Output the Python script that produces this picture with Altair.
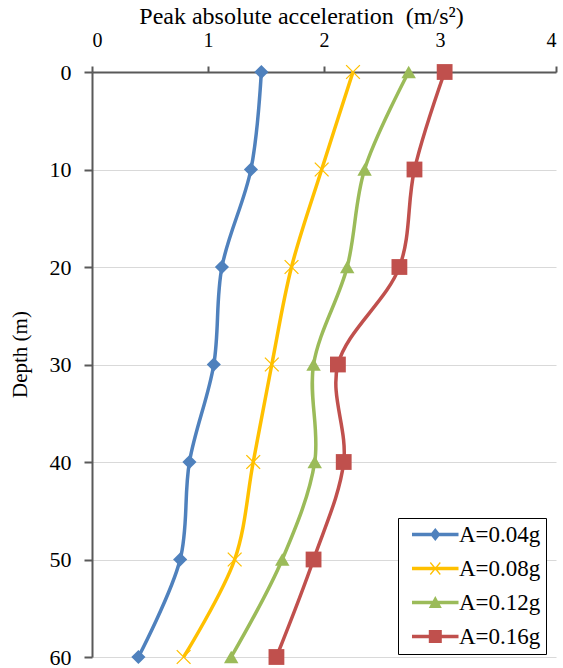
import altair as alt
import pandas as pd

# Depth below ground surface (m)
depth = [0, 10, 20, 30, 40, 50, 60]

# Peak absolute acceleration (m/s²) for each input motion level
series_names = ["A=0.04g", "A=0.08g", "A=0.12g", "A=0.16g"]
acc_004 = [1.46, 1.37, 1.12, 1.05, 0.84, 0.76, 0.40]
acc_008 = [2.25, 1.98, 1.72, 1.55, 1.39, 1.23, 0.79]
acc_012 = [2.73, 2.35, 2.20, 1.91, 1.92, 1.64, 1.20]
acc_016 = [3.04, 2.78, 2.65, 2.12, 2.17, 1.91, 1.59]

x_ticks = [0, 1, 2, 3, 4]
y_ticks = [0, 10, 20, 30, 40, 50, 60]

colors = ["#4F81BD", "#FFC000", "#9BBB59", "#C0504D"]

# legend entries carry a little trailing space so the frame has room on the right
legend_keys = [name + "\u00a0\u00a0" for name in series_names]

rows = []
for name, key, vals in zip(series_names, legend_keys, [acc_004, acc_008, acc_012, acc_016]):
    for d, v in zip(depth, vals):
        rows.append({"series": name, "key": key, "depth": d, "acc": v})
df = pd.DataFrame(rows)

SERIF = "Liberation Serif, Times New Roman, DejaVu Serif, serif"

color_scale = alt.Scale(domain=series_names, range=colors)

x_enc = alt.X(
    "acc:Q",
    scale=alt.Scale(domain=[0, 4], nice=False),
    axis=alt.Axis(
        orient="top",
        values=x_ticks,
        format="d",
        title="Peak absolute acceleration\u00a0 (m/s²)",
        titleFont=SERIF,
        labelFont=SERIF,
        titleFontSize=24,
        titleX=209,
        titleY=-49,
        titleAlign="center",
        titleBaseline="alphabetic",
        labelFontSize=20,
        labelPadding=16,
        tickSize=6,
        grid=False,
    ),
)

y_enc = alt.Y(
    "depth:Q",
    scale=alt.Scale(domain=[0, 60], reverse=True, nice=False),
    axis=alt.Axis(
        values=y_ticks,
        format="d",
        title="Depth (m)",
        titleFont=SERIF,
        labelFont=SERIF,
        titleFontSize=21,
        titleX=-72,
        titleY=282,
        titleAlign="center",
        titleBaseline="middle",
        titleAngle=270,
        labelFontSize=22,
        labelPadding=13,
        tickSize=8,
        grid=True,
        gridColor="#D9D9D9",
        gridWidth=1,
    ),
)

base = alt.Chart(df)

lines = base.mark_line(interpolate="catmull-rom", strokeWidth=3.5).encode(
    x=x_enc,
    y=y_enc,
    order=alt.Order("depth:Q"),
    color=alt.Color("series:N", scale=color_scale, legend=None),
)

marker_styles = [
    dict(shape="diamond", filled=True, size=200),
    dict(shape="M-1,-1L1,1M-1,1L1,-1", filled=False, size=190, strokeWidth=1.3),
    dict(shape="triangle-up", filled=True, size=210),
    dict(shape="square", filled=True, size=250),
]

marker_layers = []
for name, style in zip(series_names, marker_styles):
    marker_layers.append(
        base.transform_filter(alt.datum.series == name)
        .mark_point(opacity=1, **style)
        .encode(
            x="acc:Q",
            y="depth:Q",
            color=alt.Color("series:N", scale=color_scale, legend=None),
        )
    )

# Legend keys: a line segment with the series marker on it
# (path units: 1 unit = 10 px, symbol origin near the left end of the key)
KEY_LINE = "M-0.25,-0.17H4.4V0.17H-0.25Z "
legend_paths = [
    KEY_LINE + "M2.08,-0.65L2.6,0L2.08,0.65L1.56,0Z",
    KEY_LINE
    + "M1.53,-0.55L1.63,-0.65L2.63,0.55L2.53,0.65Z "
    + "M1.63,0.65L1.53,0.55L2.53,-0.65L2.63,-0.55Z",
    KEY_LINE + "M2.08,-0.65L2.73,0.55L1.43,0.55Z",
    KEY_LINE + "M1.43,-0.65H2.73V0.65H1.43Z",
]

legend_style = dict(
    title=None,
    orient="none",
    legendX=306,
    legendY=446,
    direction="vertical",
    labelFont=SERIF,
    labelFontSize=23,
    labelOffset=33,
    symbolSize=400,
    symbolOpacity=1,
    symbolStrokeWidth=0,
    rowPadding=10,
    padding=5,
    strokeColor="#000000",
    fillColor="#FFFFFF",
)

legend_layer = base.mark_point(filled=True, opacity=0).encode(
    x="acc:Q",
    y="depth:Q",
    color=alt.Color(
        "key:N",
        scale=alt.Scale(domain=legend_keys, range=colors),
        legend=alt.Legend(**legend_style),
    ),
    shape=alt.Shape(
        "key:N",
        scale=alt.Scale(domain=legend_keys, range=legend_paths),
        legend=alt.Legend(**legend_style),
    ),
)

chart = (
    alt.layer(lines, *marker_layers, legend_layer)
    .resolve_scale(color="independent", shape="independent")
    .resolve_legend(color="independent", shape="independent")
    .properties(
        width=464,
        height=585,
        autosize=alt.AutoSizeParams(type="none"),
        padding={"left": 92, "top": 72, "right": 7, "bottom": 11},
        background="#FFFFFF",
    )
    .configure_view(stroke=None)
    .configure_axis(
        labelFont=SERIF,
        titleFont=SERIF,
        labelColor="#000000",
        titleColor="#000000",
        titleFontWeight="normal",
        tickColor="#595959",
        tickWidth=2,
        domainColor="#595959",
        domainWidth=2,
    )
    .configure_legend(labelFont=SERIF, labelColor="#000000")
)

chart.save("out.html", embed_options={"renderer": "svg", "actions": False})
